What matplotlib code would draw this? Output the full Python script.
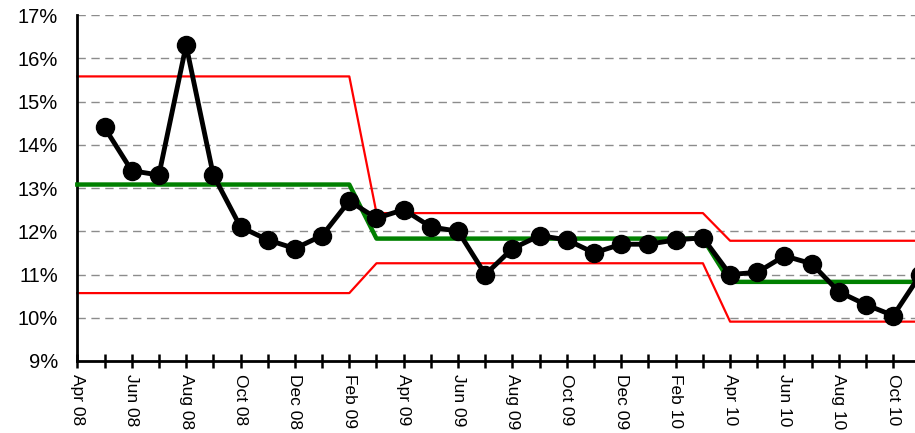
import matplotlib
matplotlib.use("Agg")
import matplotlib.pyplot as plt
from matplotlib.ticker import FixedLocator, FuncFormatter

plt.rcParams['font.family'] = ['Liberation Sans', 'DejaVu Sans']

months = ["Apr 08", "May 08", "Jun 08", "Jul 08", "Aug 08", "Sep 08", "Oct 08", "Nov 08",
          "Dec 08", "Jan 09", "Feb 09", "Mar 09", "Apr 09", "May 09", "Jun 09", "Jul 09",
          "Aug 09", "Sep 09", "Oct 09", "Nov 09", "Dec 09", "Jan 10", "Feb 10", "Mar 10",
          "Apr 10", "May 10", "Jun 10", "Jul 10", "Aug 10", "Sep 10", "Oct 10", "Nov 10"]

# data points start at May 08
values = [14.4, 13.4, 13.3, 16.3, 13.3, 12.1, 11.8, 11.6, 11.9, 12.7,
          12.3, 12.5, 12.1, 12.0, 11.0, 11.6, 11.9, 11.8, 11.5, 11.7,
          11.7, 11.8, 11.85, 11.0, 11.05, 11.43, 11.25, 10.6, 10.3, 10.05, 11.0]

# control limits, month breakpoints
limit_months = ["Apr 08", "Feb 09", "Mar 09", "Mar 10", "Apr 10", "Nov 10"]
center_line = [13.08, 13.08, 11.83, 11.83, 10.83, 10.83]
upper_limit = [15.58, 15.58, 12.42, 12.42, 11.78, 11.78]
lower_limit = [10.57, 10.57, 11.26, 11.26, 9.91, 9.91]

x_data = list(range(1, 1 + len(values)))
x_lim = [months.index(m) for m in limit_months]

fig = plt.figure(figsize=(9.15, 4.33), dpi=100)
px_per_month = 27.2
n_span = 31.5
ax = fig.add_axes([77.3 / 915, 72 / 433, n_span * px_per_month / 915, 346 / 433])

ax.set_ylim(9, 17)
ax.set_xlim(0, n_span)

for v in range(10, 18):
    ax.axhline(v, color='#8c8c8c', lw=1.0, dashes=(6, 4), zorder=1)

ax.plot(x_lim, upper_limit, color='#ff0000', lw=1.6, zorder=2, clip_on=False)
ax.plot(x_lim, lower_limit, color='#ff0000', lw=1.6, zorder=2, clip_on=False)
ax.plot(x_lim, center_line, color='#008000', lw=3.2, zorder=3, clip_on=False)
ax.plot(x_data, values, color='black', lw=3.5, marker='o', markersize=13, zorder=4, clip_on=False)

ax.spines['top'].set_visible(False)
ax.spines['right'].set_visible(False)
ax.spines['left'].set_linewidth(2)
ax.spines['bottom'].set_linewidth(2)

ax.xaxis.set_major_locator(FixedLocator(range(len(months))))
ax.set_xticklabels([m if i % 2 == 0 else "" for i, m in enumerate(months)], rotation=270,
                   fontsize=12.5, va='top', ha='center')
ax.tick_params(axis='x', direction='inout', length=10, width=1.8, pad=4)

ax.yaxis.set_major_locator(FixedLocator(range(9, 18)))
ax.yaxis.set_major_formatter(FuncFormatter(lambda v, p: f"{int(v)}%"))
ax.tick_params(axis='y', length=0, pad=14, labelsize=14.5)

fig.savefig("out.png", dpi=100)
